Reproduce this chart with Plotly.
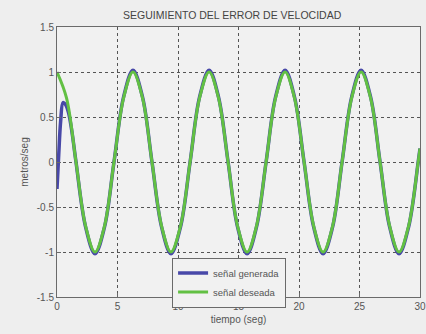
import plotly.graph_objects as go

# Desired velocity signal (metros/seg), sampled every quarter of a half-period
t_des = [0.00, 0.79, 1.57, 2.36, 3.14, 3.93, 4.71, 5.50, 6.28, 7.07, 7.85, 8.64,
         9.42, 10.21, 11.00, 11.78, 12.57, 13.35, 14.14, 14.92, 15.71, 16.49,
         17.28, 18.06, 18.85, 19.63, 20.42, 21.21, 21.99, 22.78, 23.56, 24.35,
         25.13, 25.92, 26.70, 27.49, 28.27, 29.06, 29.85, 30.00]
v_des = [1.00, 0.71, 0.00, -0.71, -1.00, -0.71, 0.00, 0.71, 1.00, 0.71, 0.00, -0.71,
         -1.00, -0.71, 0.00, 0.71, 1.00, 0.71, 0.00, -0.71, -1.00, -0.71,
         0.00, 0.71, 1.00, 0.71, 0.00, -0.71, -1.00, -0.71, 0.00, 0.71,
         1.00, 0.71, 0.00, -0.71, -1.00, -0.71, 0.00, 0.15]

# Generated velocity signal: initial transient then tracking with slight overshoot
t_gen = [0.00, 0.15, 0.30, 0.50, 0.70, 0.95, 1.24, 1.57, 2.36, 3.14, 3.93, 4.71,
         5.50, 6.28, 7.07, 7.85, 8.64, 9.42, 10.21, 11.00, 11.78, 12.57, 13.35,
         14.14, 14.92, 15.71, 16.49, 17.28, 18.06, 18.85, 19.63, 20.42, 21.21,
         21.99, 22.78, 23.56, 24.35, 25.13, 25.92, 26.70, 27.49, 28.27, 29.06,
         29.85, 30.00]
v_gen = [-0.30, 0.10, 0.45, 0.66, 0.64, 0.55, 0.33, 0.00, -0.72, -1.02, -0.72, 0.00,
         0.72, 1.02, 0.72, 0.00, -0.72, -1.02, -0.72, 0.00, 0.72, 1.02, 0.72,
         0.00, -0.72, -1.02, -0.72, 0.00, 0.72, 1.02, 0.72, 0.00, -0.72,
         -1.02, -0.72, 0.00, 0.72, 1.02, 0.72, 0.00, -0.72, -1.02, -0.72,
         0.00, 0.15]

x_ticks = [0, 5, 10, 15, 20, 25, 30]
y_ticks = [-1.5, -1, -0.5, 0, 0.5, 1, 1.5]
y_tick_text = ["-1.5", "-1", "-0.5", "0", "0.5", "1", "1.5"]

font_family = "Liberation Sans, Arial, sans-serif"
text_color = "#555555"

fig = go.Figure()
fig.add_trace(go.Scatter(
    x=t_gen, y=v_gen, mode="lines", name="señal generada",
    line=dict(color="#4848a8", width=3.5, shape="spline", smoothing=1.0),
))
fig.add_trace(go.Scatter(
    x=t_des, y=v_des, mode="lines", name="señal deseada",
    line=dict(color="#62c043", width=3, shape="spline", smoothing=1.0),
))

axis_common = dict(
    showline=True, mirror=True, linecolor="#6a6a6a", linewidth=1,
    showgrid=True, gridcolor="#555555", griddash="dot", gridwidth=1,
    zeroline=False, ticks="inside", ticklen=4, tickcolor="#6a6a6a",
    tickfont=dict(family=font_family, size=10, color=text_color),
    automargin=False,
)

fig.update_layout(
    width=426, height=334,
    margin=dict(l=57, r=6, t=27, b=37),
    paper_bgcolor="#eeeeee",
    plot_bgcolor="#f1f1f1",
    showlegend=True,
    title=dict(
        text="SEGUIMIENTO DEL ERROR DE VELOCIDAD",
        x=0.545, xanchor="center", y=0.955, yanchor="middle",
        font=dict(family=font_family, size=10.5, color="#444444"),
    ),
    xaxis=dict(
        range=[0, 30], tickvals=x_ticks,
        title=dict(text="tiempo (seg)", standoff=4,
                   font=dict(family=font_family, size=10, color=text_color)),
        **axis_common,
    ),
    yaxis=dict(
        range=[-1.5, 1.5], tickvals=y_ticks, ticktext=y_tick_text,
        title=dict(text="metros/seg", standoff=6,
                   font=dict(family=font_family, size=10, color=text_color)),
        **axis_common,
    ),
    legend=dict(
        x=0.317, y=0.146, xanchor="left", yanchor="top",
        bgcolor="#f1f1f1", bordercolor="#6a6a6a", borderwidth=1,
        font=dict(family=font_family, size=9.5, color=text_color),
        itemwidth=30, tracegroupgap=0,
    ),
)

fig.write_html("out.html")
